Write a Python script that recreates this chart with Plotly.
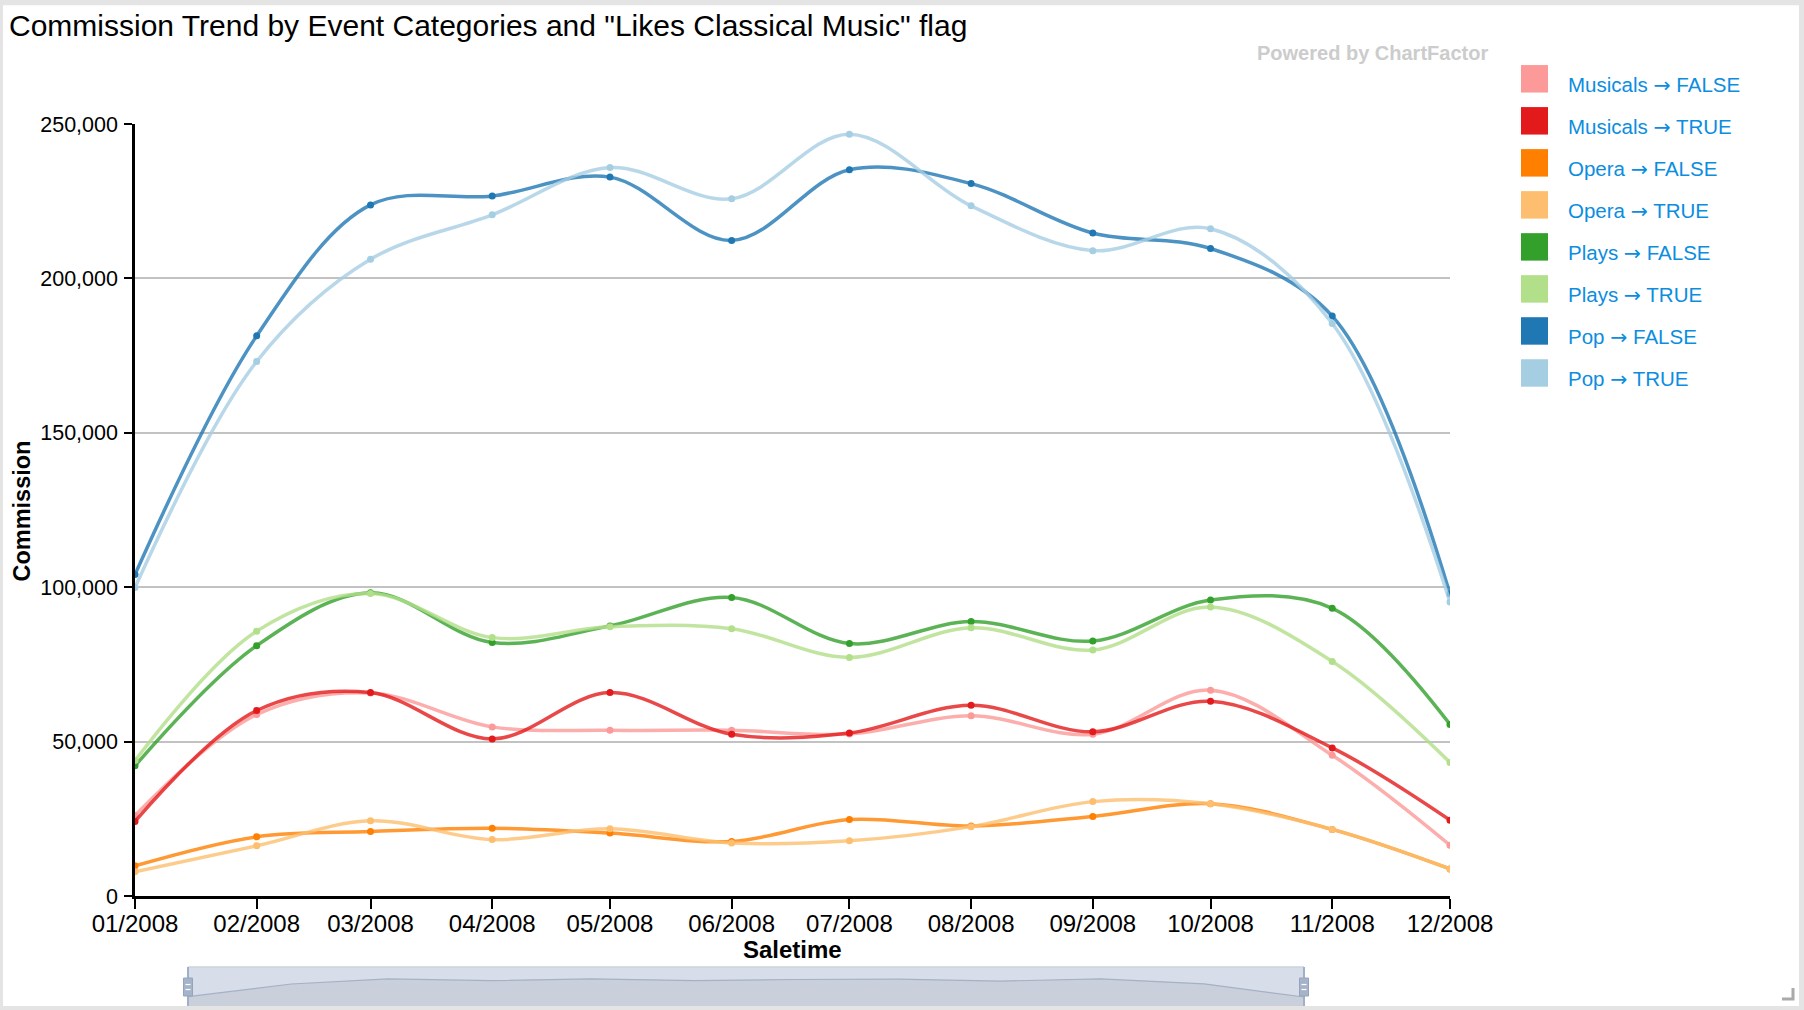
import plotly.graph_objects as go

# ---------------- data ----------------
months = ["2008-01-01", "2008-02-01", "2008-03-01", "2008-04-01", "2008-05-01", "2008-06-01",
          "2008-07-01", "2008-08-01", "2008-09-01", "2008-10-01", "2008-11-01", "2008-12-01"]

musicals_false = [26100, 58800, 65800, 54800, 53700, 53700, 52500, 58400, 52400, 66700, 45600, 16500]
musicals_true = [24200, 60100, 65900, 50900, 65900, 52400, 52800, 61800, 53200, 63100, 48000, 24600]
opera_false = [9800, 19200, 20900, 22000, 20400, 17700, 24800, 22700, 25800, 29900, 21600, 8800]
opera_true = [7900, 16300, 24400, 18300, 21800, 17200, 17900, 22500, 30600, 29900, 21600, 8800]
plays_false = [42200, 81100, 98200, 82100, 87500, 96700, 81800, 88900, 82600, 95900, 93200, 55600]
plays_true = [43900, 85800, 98000, 83700, 87200, 86600, 77300, 86900, 79700, 93600, 76000, 43300]
pop_false = [104100, 181400, 223800, 226700, 232800, 212300, 235200, 230700, 214700, 209700, 187800, 97800]
pop_true = [99900, 173100, 206200, 220600, 235900, 225800, 246700, 223500, 209000, 216100, 185400, 95200]

series_categories = ["Musicals", "Musicals", "Opera", "Opera", "Plays", "Plays", "Pop", "Pop"]
series_flags = ["FALSE", "TRUE", "FALSE", "TRUE", "FALSE", "TRUE", "FALSE", "TRUE"]
series_values = [musicals_false, musicals_true, opera_false, opera_true,
                 plays_false, plays_true, pop_false, pop_true]
series_colors = ["#fb9a99", "#e31a1c", "#ff7f00", "#fdbf6f",
                 "#33a02c", "#b2df8a", "#1f78b4", "#a6cee3"]

title_text = "Commission Trend by Event Categories and \"Likes Classical Music\" flag"
y_title = "Commission"
x_title = "Saletime"

# ---------------- layout helpers ----------------
# design coordinates are in reference pixels (1804 x 1010); the page is
# rendered slightly taller and captured back to 1010 px, hence K.
W, H_REF = 1804, 1010
K = 1024 / 1010
H = round(H_REF * K)
ML, MR = 135, 354
PLOT_TOP = 122
MT = PLOT_TOP * K
MB = 0
PW = W - ML - MR
PH = H - MT - MB
FONT = "Liberation Sans, Arial, Helvetica, sans-serif"


def px(x):
    return (x - ML) / PW


def py(y):
    return (H - MB - y * K) / PH


def rgba(hexcol, a):
    h = hexcol.lstrip("#")
    r, g, b = int(h[0:2], 16), int(h[2:4], 16), int(h[4:6], 16)
    return f"rgba({r},{g},{b},{a})"


fig = go.Figure()

for cat, flag, vals, col in zip(series_categories, series_flags, series_values, series_colors):
    fig.add_trace(go.Scatter(
        x=months, y=vals, name=f"{cat} \u2192 {flag}", mode="lines+markers",
        line=dict(shape="spline", color=rgba(col, 0.8), width=3.5),
        marker=dict(size=7, color=col),
        xaxis="x", yaxis="y",
    ))

# mini overview (brush) chart: total per month
totals = [sum(v[i] for v in series_values) for i in range(len(months))]
fig.add_trace(go.Scatter(
    x=months, y=totals, mode="lines", fill="tozeroy",
    fillcolor="#c9cfdb", line=dict(color="#a6b1c4", width=1.2),
    xaxis="x2", yaxis="y2", hoverinfo="skip", showlegend=False,
))

shapes = []
annotations = []

# white card on grey frame
shapes.append(dict(type="rect", xref="paper", yref="paper", layer="below",
                   x0=px(3), x1=px(1799), y0=py(1005), y1=py(3),
                   fillcolor="white", line=dict(width=0)))
# brush background
shapes.append(dict(type="rect", xref="paper", yref="paper", layer="below",
                   x0=px(188), x1=px(1304), y0=py(1010), y1=py(966),
                   fillcolor="#d7dee9", line=dict(width=0)))
shapes.append(dict(type="line", xref="paper", yref="paper",
                   x0=px(188), x1=px(1304), y0=py(966), y1=py(966),
                   line=dict(color="#cdd3dc", width=1.5)))
for ex in (188, 1304):
    shapes.append(dict(type="line", xref="paper", yref="paper",
                       x0=px(ex), x1=px(ex), y0=py(1005), y1=py(966),
                       line=dict(color="#9fb0c8", width=2)))
    shapes.append(dict(type="rect", xref="paper", yref="paper",
                       x0=px(ex - 4.5), x1=px(ex + 4.5), y0=py(995), y1=py(977),
                       fillcolor="#a6b4ca", line=dict(color="#94a4bd", width=1)))
    for hy in (983.5, 988.5):
        shapes.append(dict(type="line", xref="paper", yref="paper",
                           x0=px(ex - 2.5), x1=px(ex + 2.5), y0=py(hy), y1=py(hy),
                           line=dict(color="white", width=1.2)))
# bottom grey band (covers cut part of brush)
shapes.append(dict(type="rect", xref="paper", yref="paper", layer="above",
                   x0=px(0), x1=px(W), y0=py(H_REF + 20), y1=py(1005),
                   fillcolor="#e4e4e4", line=dict(width=0)))
# resize corner
shapes.append(dict(type="path", xref="paper", yref="paper",
                   path=f"M {px(1782)} {py(998)} L {px(1793)} {py(998)} L {px(1793)} {py(987)}",
                   line=dict(color="#aaaaaa", width=3)))

# custom legend
ARROW = "<span style=\"font-family:'DejaVu Sans'\">\u2192</span>"
for i, (cat, flag, col) in enumerate(zip(series_categories, series_flags, series_colors)):
    top = 63.0 + i * 42.07
    shapes.append(dict(type="rect", xref="paper", yref="paper",
                       x0=px(1521), x1=px(1548), y0=py(top + 27.5), y1=py(top),
                       fillcolor=col, line=dict(width=0)))
    annotations.append(dict(text=f"{cat} {ARROW} {flag}", xref="paper", yref="paper",
                            x=px(1566), y=py(top + 20), xanchor="left", yanchor="middle",
                            showarrow=False, font=dict(size=20.5, color="#0b8de0", family=FONT)))

# title & texts
annotations.append(dict(text=title_text, xref="paper", yref="paper",
                        x=px(7), y=py(23), xanchor="left", yanchor="middle", showarrow=False,
                        font=dict(size=30, color="black", family=FONT)))
annotations.append(dict(text="<b>Powered by ChartFactor</b>", xref="paper", yref="paper",
                        x=px(1255), y=py(51), xanchor="left", yanchor="middle", showarrow=False,
                        font=dict(size=20, color="#cccccc", family=FONT)))
annotations.append(dict(text=f"<b>{y_title}</b>", xref="paper", yref="paper", textangle=-90,
                        x=px(22), y=py(510), xanchor="center", yanchor="middle", showarrow=False,
                        font=dict(size=23.5, color="black", family=FONT)))
annotations.append(dict(text=f"<b>{x_title}</b>", xref="paper", yref="paper",
                        x=px(792), y=py(948), xanchor="center", yanchor="middle", showarrow=False,
                        font=dict(size=24, color="black", family=FONT)))

fig.update_layout(
    width=W, height=H,
    margin=dict(l=ML, r=MR, t=MT, b=MB, pad=0),
    paper_bgcolor="#e4e4e4",
    plot_bgcolor="rgba(0,0,0,0)",
    showlegend=False,
    font=dict(family=FONT, color="black"),
    xaxis=dict(
        type="date", range=[months[0], months[-1]], domain=[0, 1], anchor="y",
        tickformat="%m/%Y", dtick="M1", tick0=months[0],
        ticks="outside", ticklen=10, tickwidth=2, tickcolor="black",
        ticklabelstandoff=-6,
        showline=True, linecolor="black", linewidth=2.5,
        showgrid=False, zeroline=False,
        tickfont=dict(size=24, color="black", family=FONT),
    ),
    yaxis=dict(
        range=[0, 250000], domain=[py(895), 1], anchor="x",
        dtick=50000, tickformat=",",
        ticks="outside", ticklen=8, tickwidth=2, tickcolor="black",
        ticklabelstandoff=2,
        showline=True, linecolor="black", linewidth=2.5,
        showgrid=True, gridcolor="#c2c2c2", gridwidth=1.5, zeroline=False,
        tickfont=dict(size=21.5, color="black", family=FONT),
    ),
    xaxis2=dict(type="date", range=[months[0], months[-1]], domain=[px(188), px(1304)],
                anchor="y2", visible=False, fixedrange=True),
    yaxis2=dict(range=[0, 1100000], domain=[py(1010), py(966)], anchor="x2",
                visible=False, fixedrange=True),
    shapes=shapes,
    annotations=annotations,
)

POST = (
    "var gd=document.getElementById('{plot_id}');"
    "gd.style.position='fixed';gd.style.left='0px';gd.style.top='0px';"
    "document.body.style.margin='0';"
    "document.documentElement.style.overflow='hidden';"
    "document.body.style.overflow='hidden';"
)

fig.write_html("out.html", config={"displayModeBar": False}, post_script=POST)
